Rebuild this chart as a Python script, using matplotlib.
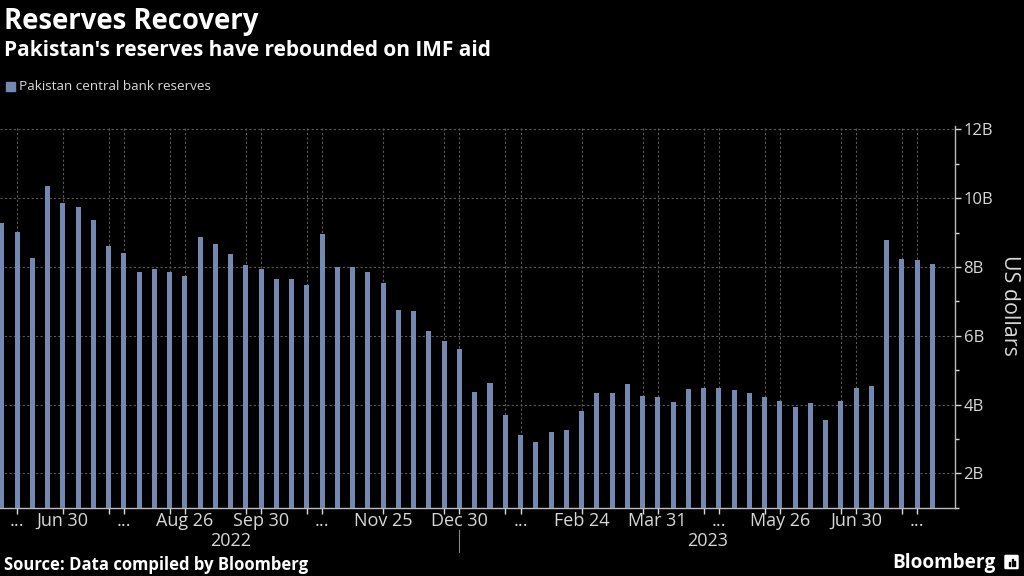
import matplotlib
matplotlib.use("Agg")
import matplotlib.pyplot as plt
from matplotlib.patches import FancyBboxPatch, Rectangle
from matplotlib.ticker import FixedLocator, MultipleLocator
import numpy as np

# weekly reserves, billions of US dollars
reserves = [9.28, 9.02, 8.27, 10.36, 9.85, 9.75, 9.38, 8.62, 8.42, 7.86,
            7.94, 7.84, 7.74, 8.86, 8.67, 8.39, 8.05, 7.94, 7.64, 7.64,
            7.49, 8.95, 7.99, 7.99, 7.86, 7.54, 6.75, 6.72, 6.15, 5.85,
            5.60, 4.35, 4.64, 3.70, 3.10, 2.92, 3.20, 3.27, 3.82, 4.33,
            4.33, 4.61, 4.26, 4.23, 4.06, 4.46, 4.49, 4.49, 4.41, 4.33,
            4.22, 4.11, 3.93, 4.03, 3.56, 4.09, 4.49, 4.54, 8.78, 8.22,
            8.20, 8.09]

label_pos = [1, 4, 8, 12, 17, 21, 25, 30, 34, 38, 43, 47, 51, 56, 60]
label_txt = ["...", "Jun 30", "...", "Aug 26", "Sep 30", "...", "Nov 25",
             "Dec 30", "...", "Feb 24", "Mar 31", "...", "May 26", "Jun 30", "..."]
grid_pos = [1, 4, 7, 8, 11, 12, 16, 17, 20, 21, 25, 29, 30, 33, 34, 38,
            42, 43, 46, 47, 50, 51, 55, 56, 59, 60]
years = ["2022", "2023"]
year_break = 30
yticks = [2, 4, 6, 8, 10, 12]

BG = "black"
BAR = "#7389b1"
TXT = "#d8d8d8"
GRID = "#5a5a5a"
FONT = "Open Sans"

plt.rcParams['font.family'] = [FONT, 'DejaVu Sans']

fig = plt.figure(figsize=(10.24, 5.76), dpi=100, facecolor=BG)
ax = fig.add_axes([0.0, 0.1186, 0.9329, 0.6627], facecolor=BG)

x = np.arange(len(reserves))
ax.bar(x, reserves, width=0.33, color=BAR, zorder=3)

xmax = 62.5
ax.set_xlim(-0.12, xmax)
ax.set_ylim(1, 12.1)

# y axis on the right
ax.yaxis.tick_right()
ax.yaxis.set_major_locator(FixedLocator(yticks))
ax.yaxis.set_minor_locator(MultipleLocator(1))
ax.set_yticklabels(["%dB" % v for v in yticks])
ax.tick_params(axis="y", which="major", colors=TXT, labelsize=12, length=4,
               width=1, pad=2, direction="out")
ax.tick_params(axis="y", which="minor", colors=TXT, length=3, width=1,
               direction="out")

ax.set_xticks(grid_pos)
ax.set_xticklabels([""] * len(grid_pos))
ax.tick_params(axis="x", colors=TXT, length=4, width=1, direction="out")
xt = ax.get_xaxis_transform()
for p, t in zip(label_pos, label_txt):
    ax.text(p, -0.034, t, transform=xt, ha="center", va="center",
            color=TXT, fontsize=13)

ax.grid(True, axis="both", color=GRID, linestyle=(0, (2, 2)), linewidth=0.8,
        zorder=0)

for s in ["top", "left"]:
    ax.spines[s].set_visible(False)
for s in ["bottom", "right"]:
    ax.spines[s].set_color("#bbbbbb")
    ax.spines[s].set_linewidth(1)

# year labels
ax.text(year_break / 2, -0.086, years[0], transform=xt, ha="center",
        va="center", color=TXT, fontsize=13)
ax.text((year_break + xmax) / 2, -0.086, years[1], transform=xt, ha="center",
        va="center", color=TXT, fontsize=13)
ax.plot([year_break, year_break], [-0.058, -0.116], transform=xt,
        color="#888888", linewidth=0.8, clip_on=False)

fig.text(1010 / 1024, 1 - 305 / 576, "US dollars", rotation=270, ha="center",
         va="center", color=TXT, fontsize=15.4)

# titles
fig.text(4 / 1024, 1 - 21 / 576, "Reserves Recovery", color="white",
         fontsize=19.8, fontweight="bold", ha="left", va="center")
fig.text(4 / 1024, 1 - 50 / 576, "Pakistan's reserves have rebounded on IMF aid",
         color="white", fontsize=15, fontweight="bold", ha="left", va="center")

# legend
fig.patches.append(Rectangle((6 / 1024, 1 - 91 / 576), 9 / 1024, 9 / 576,
                             transform=fig.transFigure, color=BAR))
fig.text(19 / 1024, 1 - 87 / 576, "Pakistan central bank reserves", color=TXT,
         fontsize=9.7, ha="left", va="center")

# footer
fig.text(4 / 1024, 1 - 565 / 576, "Source: Data compiled by Bloomberg",
         color="white", fontsize=12, fontweight="bold", ha="left", va="center")
fig.text(996 / 1024, 1 - 563 / 576, "Bloomberg", color="white", fontsize=13.7,
         fontweight="bold", ha="right", va="center")
fig.patches.append(FancyBboxPatch((1006 / 1024, 1 - 568 / 576), 11 / 1024, 12 / 576,
                                  boxstyle="round,pad=0.001",
                                  transform=fig.transFigure, color="white"))
for bx, bh in [(1009, 4), (1011.5, 7), (1014, 5)]:
    fig.patches.append(Rectangle((bx / 1024, 1 - 566 / 576), 1.4 / 1024, bh / 576,
                                 transform=fig.transFigure, color="black"))

fig.savefig("out.png", dpi=100, facecolor=BG)
